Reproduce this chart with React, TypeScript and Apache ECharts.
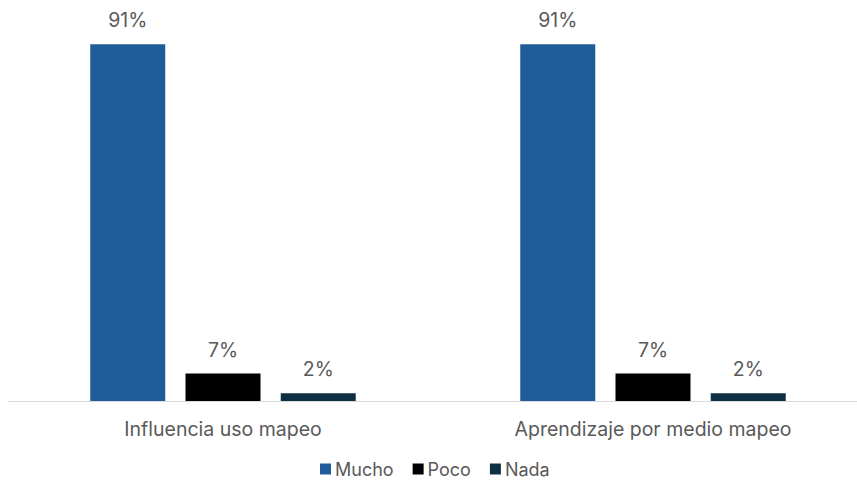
import React, { useEffect, useRef } from "react";
import * as echarts from "echarts";

const categories = ["Influencia uso mapeo", "Aprendizaje por medio mapeo"];
const seriesNames = ["Mucho", "Poco", "Nada"];
const mucho = [91, 91];
const poco = [7, 7];
const nada = [2, 2];
const colors = ["#1F5C99", "#000000", "#0E2F44"];

export default function App() {
  const ref = useRef<HTMLDivElement>(null);
  useEffect(() => {
    const chart = echarts.init(ref.current!, undefined, { renderer: "svg" });
    const values = [mucho, poco, nada];
    const font = "Inter, 'Noto Sans', sans-serif";
    chart.setOption({
      animation: false,
      textStyle: { fontFamily: font },
      grid: { left: 8, width: 860, top: 9, bottom: 81, outerBoundsMode: "none", containLabel: false },
      legend: {
        left: 320,
        top: 460,
        padding: 0,
        itemWidth: 11,
        itemHeight: 11,
        itemGap: 19,
        icon: "rect",
        textStyle: { fontSize: 18, lineHeight: 18, color: "#595959", fontFamily: font, padding: [0, 0, 0, -1] },
        data: seriesNames,
      },
      xAxis: {
        type: "category",
        data: categories,
        axisLine: { lineStyle: { color: "#D9D9D9", width: 1 } },
        axisTick: { show: false },
        axisLabel: { fontSize: 19.5, color: "#595959", margin: 18, fontFamily: font },
      },
      yAxis: { type: "value", min: 0, max: 100, show: false, splitLine: { show: false } },
      series: seriesNames.map((name, i) => ({
        name,
        type: "bar",
        data: values[i],
        barWidth: 75,
        barGap: "27%",
        itemStyle: { color: colors[i] },
        label: {
          show: true,
          position: "top",
          distance: 14,
          formatter: "{c}%",
          fontSize: 19.5,
          color: "#595959",
          fontFamily: font,
        },
      })),
    });
    return () => chart.dispose();
  }, []);
  return <div ref={ref} style={{ width: 857, height: 482, position: "absolute", left: 0, top: 0 }} />;
}
